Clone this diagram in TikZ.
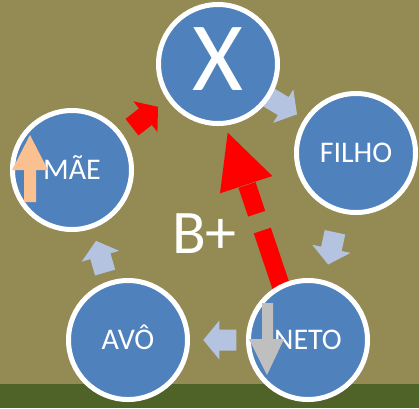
\documentclass[tikz,border=0pt]{standalone}
\usepackage{fontspec}
\setmainfont{Carlito}
\usetikzlibrary{calc}
\definecolor{bgolive}{HTML}{948A54}
\definecolor{bandgreen}{HTML}{4F6228}
\definecolor{circblue}{HTML}{4F81BD}
\definecolor{lightarrow}{HTML}{B3C3E0}
\definecolor{peach}{HTML}{FAC090}
\definecolor{grayarrow}{HTML}{BFBFBF}
\begin{document}
\begin{tikzpicture}[x=1pt,y=-1pt,
  ring/.style={circle, fill=circblue, draw=white, line width=5pt,
    minimum size=119pt, inner sep=0pt, text=white,
    font=\fontsize{30}{30}\selectfont, text height=19.3pt, text depth=0pt},
  bigx/.style={font=\fontsize{98}{98}\selectfont, text height=52pt, text depth=0pt},
  blockarr/.pic={\fill (-16.5,-10.5) -- (0.5,-10.5) -- (0.5,-19.5) -- (16.5,0)
      -- (0.5,19.5) -- (0.5,10.5) -- (-16.5,10.5) -- cycle;}]
\useasboundingbox (0,0) rectangle (419,408);
\fill[bgolive] (0,0) rectangle (419,408);
\fill[bandgreen] (0,384) rectangle (419,408);
% node positions
\coordinate (pX) at (218,64);
\coordinate (pF) at (356,153);
\coordinate (pN) at (308,340);
\coordinate (pA) at (128,340);
\coordinate (pM) at (72,170);
% cycle arrows
\pic[color=lightarrow, rotate=-31] at ($(pX)!0.47!(pF)$) {blockarr};
\pic[color=lightarrow, rotate=-102] at ($(pF)!0.51!(pN)$) {blockarr};
\pic[color=lightarrow, rotate=180] at ($(pN)!0.49!(pA)$) {blockarr};
\pic[color=lightarrow, rotate=106] at ($(pA)!0.49!(pM)$) {blockarr};
\pic[color=red, rotate=38] at ($(pM)!0.5!(pX)$) {blockarr};
% big red dashed arrow from NETO towards X
\coordinate (rtip) at (227.7,132.7);
\coordinate (rbase) at (247,185);
\coordinate (rtail) at (284,295);
\draw[red, line width=18pt, dash pattern=on 30.3pt off 17.7pt on 200pt off 1pt] (rbase) -- (rtail);
\fill[red] (rtip) -- (272.3,176) -- (220,193.3) -- cycle;
% circles
\node[ring, bigx] (X) at (pX) {X};
\node[ring] (FILHO) at (pF) {FILHO};
\node[ring] (NETO) at (pN) {NETO};
\node[ring] (AVO) at (pA) {AVÔ};
\node[ring] (MAE) at (pM) {MÃE};
\node[text=white, font=\fontsize{62}{62}\selectfont, anchor=base] (Bplus) at (204.5,253) {B+};
% overlay arrows
\fill[peach] (24,202) -- (24,170) -- (12,170) -- (30,135) -- (48,170) -- (36,170) -- (36,202) -- cycle;
\fill[grayarrow] (262,303) -- (273,303) -- (273,339) -- (284,339) -- (267,375) -- (249,339) -- (262,339) -- cycle;
\end{tikzpicture}
\end{document}
